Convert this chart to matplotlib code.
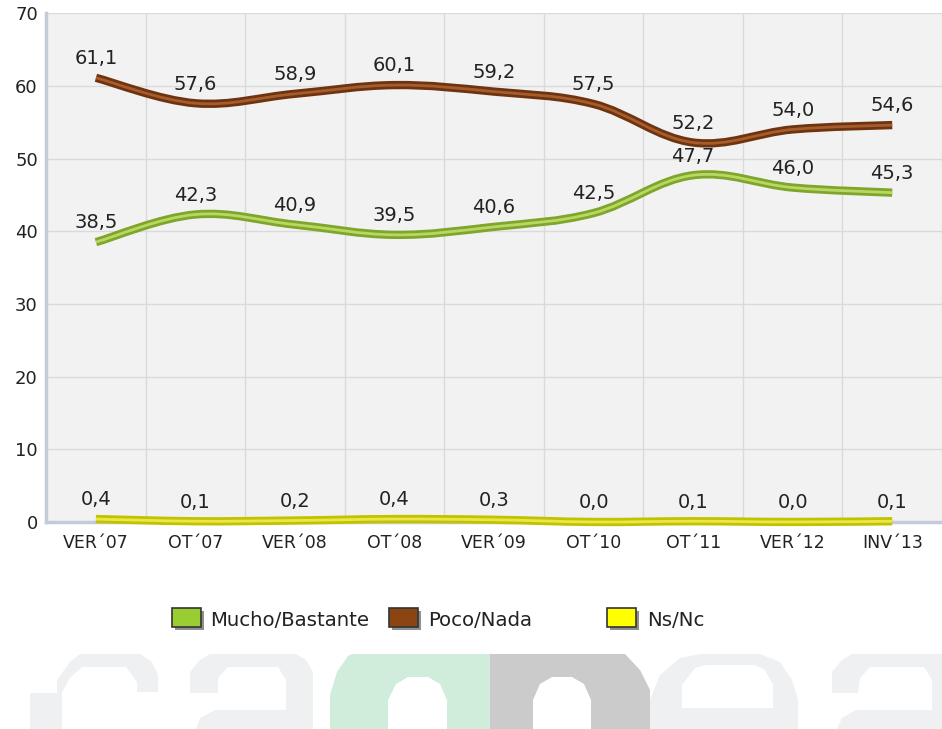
import numpy as np
import matplotlib
matplotlib.use("Agg")
import matplotlib.pyplot as plt
from matplotlib.path import Path
from matplotlib.patches import PathPatch, Rectangle, Polygon

categories = ["VER´07", "OT´07", "VER´08", "OT´08", "VER´09", "OT´10", "OT´11", "VER´12", "INV´13"]
mucho = [38.5, 42.3, 40.9, 39.5, 40.6, 42.5, 47.7, 46.0, 45.3]
poco = [61.1, 57.6, 58.9, 60.1, 59.2, 57.5, 52.2, 54.0, 54.6]
nsnc = [0.4, 0.1, 0.2, 0.4, 0.3, 0.0, 0.1, 0.0, 0.1]
labels = ["Mucho/Bastante", "Poco/Nada", "Ns/Nc"]
yticks = [0, 10, 20, 30, 40, 50, 60, 70]

plt.rcParams['font.family'] = ['DejaVu Sans']

W, H = 942, 729
fig = plt.figure(figsize=(9.42, 7.29), dpi=100)
fig.patch.set_facecolor('white')


# faint watermark logo at the bottom (decorative shapes, pixel outlines)
def shape(pts, color):
    pts = [(px / W, 1 - py / H) for px, py in pts]
    fig.patches.append(Polygon(pts, closed=True, transform=fig.transFigure,
                               facecolor=color, edgecolor='none', zorder=0))

LG = '#eff0f2'
# "c"-like
shape([(30, 729), (30, 693), (57, 693), (57, 680), (70, 662), (80, 654), (140, 654),
       (152, 662), (158, 675), (158, 692), (137, 692), (137, 682), (126, 667),
       (82, 667), (70, 678), (62, 692), (62, 729)], LG)
# "2"-like
shape([(190, 693), (190, 672), (200, 660), (210, 654), (296, 654), (306, 660),
       (313, 672), (313, 729), (196, 729), (200, 718), (215, 710), (286, 710),
       (286, 680), (278, 667), (228, 667), (218, 678), (218, 693)], LG)
# green arch
shape([(330, 729), (330, 695), (337, 672), (348, 656), (352, 654), (490, 654),
       (490, 729), (447, 729), (447, 700), (440, 684), (428, 677), (408, 677),
       (396, 684), (388, 700), (388, 729)], '#d0ecda')
# gray arch
shape([(490, 654), (625, 654), (640, 670), (650, 690), (650, 729), (591, 729),
       (591, 700), (584, 684), (572, 677), (552, 677), (540, 684), (533, 700),
       (533, 729), (490, 729)], '#cbcbcb')
# "o"-like ring
shape([(650, 729), (650, 700), (660, 675), (680, 658), (700, 654), (760, 654),
       (780, 662), (792, 680), (798, 700), (798, 729)], LG)
shape([(682, 708), (682, 685), (695, 668), (705, 665), (755, 665), (765, 670),
       (773, 685), (773, 708)], 'white')
# right "2"-like
shape([(832, 693), (832, 672), (842, 660), (852, 654), (942, 654), (942, 729),
       (837, 729), (842, 718), (856, 710), (932, 710), (932, 680), (924, 667),
       (870, 667), (860, 678), (858, 693)], LG)

ax = fig.add_axes([0.049, 0.284, 0.951, 0.698])
ax.set_facecolor('#f2f2f2')
x = np.arange(len(categories))
ax.set_xlim(-0.5, len(categories) - 0.5)
ax.set_ylim(0, 70)


def smooth_path(xs, ys, t=0.18):
    xs = np.asarray(xs, float); ys = np.asarray(ys, float)
    verts = [(xs[0], ys[0])]
    codes = [Path.MOVETO]
    n = len(xs)
    for i in range(n - 1):
        p0 = (xs[i - 1], ys[i - 1]) if i > 0 else (xs[i], ys[i])
        p1 = (xs[i], ys[i]); p2 = (xs[i + 1], ys[i + 1])
        p3 = (xs[i + 2], ys[i + 2]) if i + 2 < n else p2
        c1 = (p1[0] + (p2[0] - p0[0]) * t, p1[1] + (p2[1] - p0[1]) * t)
        c2 = (p2[0] - (p3[0] - p1[0]) * t, p2[1] - (p3[1] - p1[1]) * t)
        verts += [c1, c2, p2]
        codes += [Path.CURVE4] * 3
    return Path(verts, codes)


series = [
    (mucho, '#7fa52c', '#b8d862'),
    (poco, '#6e3410', '#a65c2c'),
    (nsnc, '#c2c200', '#e8e84a'),
]
for vals, dark, light in series:
    p = smooth_path(x, vals)
    ax.add_patch(PathPatch(p, facecolor='none', edgecolor=dark, lw=6.0,
                           capstyle='butt', joinstyle='round', zorder=3,
                           clip_on=False))
    ax.add_patch(PathPatch(p, facecolor='none', edgecolor=light, lw=2.0,
                           capstyle='butt', joinstyle='round', zorder=4,
                           clip_on=False))
    for xi, v in zip(x, vals):
        ax.annotate(f"{v:.1f}".replace('.', ','), (xi, v), xytext=(0, 7),
                    textcoords='offset points', ha='center', va='bottom',
                    fontsize=14, color='#222222', zorder=5)

ax.set_yticks(yticks)
ax.set_yticklabels([str(t) for t in yticks])
ax.set_xticks(x)
ax.set_xticklabels(categories)
ax.set_xticks(np.arange(-0.5, len(categories), 1), minor=True)
ax.grid(False)
ax.yaxis.grid(True, color='#dadada', lw=1)
ax.xaxis.grid(True, which='minor', color='#dadada', lw=1)
ax.set_axisbelow(True)
ax.tick_params(axis='both', which='both', length=0)
ax.tick_params(axis='y', pad=6, labelsize=13, labelcolor='#222222')
ax.tick_params(axis='x', pad=9, labelsize=12.5, labelcolor='#222222')
for s in ['top', 'right']:
    ax.spines[s].set_visible(False)
for s in ['left', 'bottom']:
    ax.spines[s].set_color('#c3cbd9')
    ax.spines[s].set_linewidth(2.5)

# legend
leg_items = [(labels[0], '#9acd32', 172, 210), (labels[1], '#8b4513', 389, 428),
             (labels[2], '#ffff00', 607, 647)]
for lab, col, bx, tx in leg_items:
    y0 = 608
    fig.patches.append(Rectangle(((bx + 3) / W, 1 - (y0 + 22) / H), 29 / W, 19 / H,
                                 transform=fig.transFigure, facecolor='#8f8f8f',
                                 edgecolor='none', zorder=1))
    fig.patches.append(Rectangle((bx / W, 1 - (y0 + 19) / H), 29 / W, 19 / H,
                                 transform=fig.transFigure, facecolor=col,
                                 edgecolor='#333333', lw=1.2, zorder=2))
    fig.text(tx / W, 1 - (y0 + 13) / H, lab, ha='left', va='center',
             fontsize=14.2, color='#222222')

fig.savefig('out.png', dpi=100)
